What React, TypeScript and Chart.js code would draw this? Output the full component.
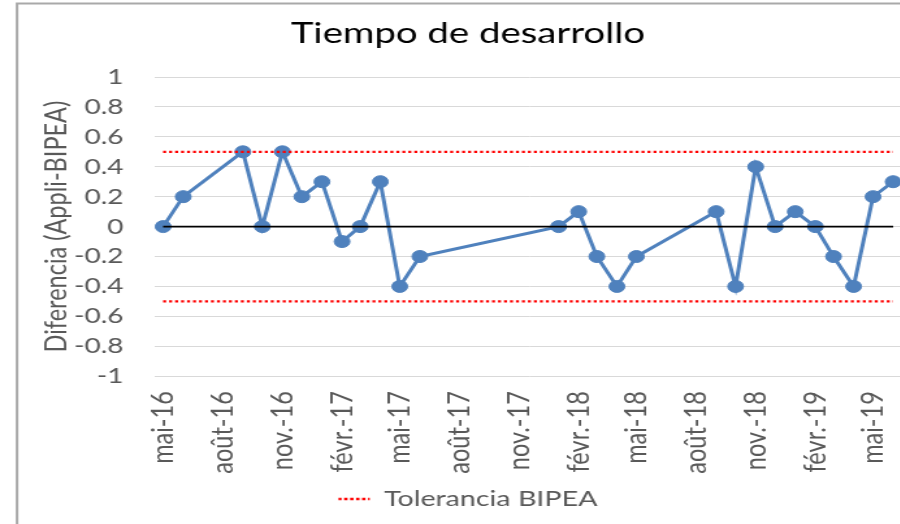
import React, { useEffect, useRef } from 'react';
import { Chart, registerables } from 'chart.js';

Chart.register(...registerables);

// ---- data ----
const DATES = [
  '2016-05-01', '2016-06-01', '2016-09-01', '2016-10-01', '2016-11-01', '2016-12-01',
  '2017-01-01', '2017-02-01', '2017-03-01', '2017-04-01', '2017-05-01', '2017-06-01',
  '2018-01-01', '2018-02-01', '2018-03-01', '2018-04-01', '2018-05-01',
  '2018-09-01', '2018-10-01', '2018-11-01', '2018-12-01',
  '2019-01-01', '2019-02-01', '2019-03-01', '2019-04-01', '2019-05-01', '2019-06-01',
];
const DIFFERENCES = [
  0, 0.2, 0.5, 0, 0.5, 0.2,
  0.3, -0.1, 0, 0.3, -0.4, -0.2,
  0, 0.1, -0.2, -0.4, -0.2,
  0.1, -0.4, 0.4, 0,
  0.1, 0, -0.2, -0.4, 0.2, 0.3,
];
const TOLERANCE_UPPER = 0.5;
const TOLERANCE_LOWER = -0.5;
const ZERO_LINE = 0;
const TICK_DATES = [
  '2016-05-01', '2016-08-01', '2016-11-01', '2017-02-01', '2017-05-01', '2017-08-01', '2017-11-01',
  '2018-02-01', '2018-05-01', '2018-08-01', '2018-11-01', '2019-02-01', '2019-05-01',
];
const TICK_LABELS = [
  'mai-16', 'août-16', 'nov.-16', 'févr.-17', 'mai-17', 'août-17', 'nov.-17',
  'févr.-18', 'mai-18', 'août-18', 'nov.-18', 'févr.-19', 'mai-19',
];
const AXIS_START = '2016-04-17';
const AXIS_END = '2019-06-19';
const Y_MIN = -1;
const Y_MAX = 1;
const Y_STEP = 0.2;

const TITLE = 'Tiempo de desarrollo';
const Y_TITLE = 'Diferencia (Appli-BIPEA)';
const LEGEND_LABEL = 'Tolerancia BIPEA';

// ---- helpers ----
const BASE = Date.parse(DATES[0]);
const toDay = (s: string) => (Date.parse(s) - BASE) / 86400000;

const W = 720; // internal canvas width (displayed stretched horizontally)
const H = 524;
const STRETCH = 1.3;

const BLUE = '#4f81bd';
const GREY_TEXT = '#595959';

const framePlugin = {
  id: 'frame',
  beforeDraw(chart: any) {
    const { ctx, width, height } = chart;
    ctx.save();
    ctx.fillStyle = '#ffffff';
    ctx.fillRect(0, 0, width, height);
    ctx.strokeStyle = '#a9a9a9';
    ctx.lineWidth = 2;
    ctx.beginPath();
    ctx.moveTo(13.1, height);
    ctx.lineTo(13.1, 3.5);
    ctx.lineTo(width, 3.5);
    ctx.stroke();
    ctx.restore();
  },
};

export default function App() {
  const ref = useRef<HTMLCanvasElement>(null);

  useEffect(() => {
    const canvas = ref.current;
    if (!canvas) return;
    Chart.defaults.font.family = 'Lato';

    const first = toDay(DATES[0]);
    const last = toDay(DATES[DATES.length - 1]);
    const span = (y: number) => [{ x: first, y }, { x: last, y }];

    const chart = new Chart(canvas, {
      type: 'line',
      data: {
        datasets: [
          {
            label: LEGEND_LABEL,
            data: span(TOLERANCE_UPPER),
            borderColor: '#ff0000',
            borderWidth: 2.3,
            borderDash: [2.3, 2.3],
            pointRadius: 0,
            backgroundColor: 'rgba(0,0,0,0)',
          },
          {
            label: 'lower',
            data: span(TOLERANCE_LOWER),
            borderColor: '#ff0000',
            borderWidth: 2.3,
            borderDash: [2.3, 2.3],
            pointRadius: 0,
          },
          {
            label: 'zero',
            data: span(ZERO_LINE),
            borderColor: '#000000',
            borderWidth: 1.8,
            pointRadius: 0,
          },
          {
            label: 'Diferencia',
            data: DATES.map((d, i) => ({ x: toDay(d), y: DIFFERENCES[i] })),
            borderColor: BLUE,
            backgroundColor: BLUE,
            borderWidth: 3,
            pointRadius: 6,
            pointBorderWidth: 1,
            pointBorderColor: BLUE,
            pointBackgroundColor: BLUE,
            tension: 0,
          },
        ],
      } as any,
      options: {
        responsive: false,
        animation: false,
        events: [],
        layout: { padding: { left: 24, right: 24, top: 0, bottom: 4 } },
        plugins: {
          title: {
            display: true,
            text: TITLE,
            color: '#000000',
            font: { family: 'Lato', size: 29.5, weight: 'normal' },
            padding: { top: 15.8, bottom: 25.8 },
          },
          legend: {
            display: true,
            position: 'bottom',
            labels: {
              color: GREY_TEXT,
              font: { family: 'Lato', size: 22 },
              boxWidth: 24,
              boxHeight: 0,
              padding: 10,
              filter: (item: any) => item.datasetIndex === 0,
            },
          },
          tooltip: { enabled: false },
        },
        scales: {
          x: {
            type: 'linear',
            min: toDay(AXIS_START),
            max: toDay(AXIS_END),
            grid: { display: false, drawTicks: false },
            border: { display: false },
            afterBuildTicks: (scale: any) => {
              scale.ticks = TICK_DATES.map((d) => ({ value: toDay(d) }));
            },
            afterFit: (scale: any) => {
              scale.height = 101.8;
            },
            ticks: {
              autoSkip: false,
              maxRotation: 90,
              minRotation: 90,
              padding: 15,
              color: GREY_TEXT,
              font: { family: 'Lato', size: 23.5 },
              callback: (_v: any, i: number) => TICK_LABELS[i],
            },
          },
          y: {
            min: Y_MIN,
            max: Y_MAX,
            grid: { color: '#d9d9d9', lineWidth: 1, drawTicks: false },
            border: { display: false },
            afterFit: (scale: any) => {
              scale.width = 94.5;
            },
            ticks: {
              stepSize: Y_STEP,
              padding: 23.5,
              color: GREY_TEXT,
              font: { family: 'Lato', size: 21.5 },
              callback: (v: any) => String(Math.round(Number(v) * 10) / 10),
            },
            title: {
              display: true,
              text: Y_TITLE,
              color: GREY_TEXT,
              font: { family: 'Lato', size: 23.5 },
              padding: { top: 5.1, bottom: 0 },
            },
          },
        },
      } as any,
      plugins: [framePlugin],
    });
    return () => chart.destroy();
  }, []);

  return (
    <div
      style={{
        position: 'fixed',
        left: 0,
        top: 0,
        width: 900,
        height: 524,
        overflow: 'hidden',
        background: '#ffffff',
      }}
    >
      <canvas
        ref={ref}
        width={W}
        height={H}
        style={{ width: `${W * STRETCH}px`, height: `${H}px`, display: 'block' }}
      />
    </div>
  );
}
